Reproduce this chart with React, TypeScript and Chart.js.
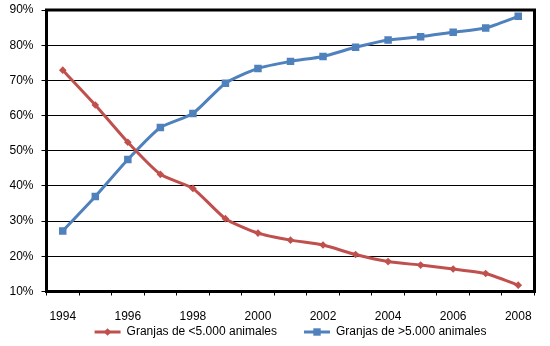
import React, { useEffect, useRef } from 'react';
import { Chart, registerables } from 'chart.js';

Chart.register(...registerables);

const years = ['1994', '1995', '1996', '1997', '1998', '1999', '2000', '2001', '2002', '2003', '2004', '2005', '2006', '2007', '2008'];
const smallFarms = [72.9, 63.0, 52.4, 43.3, 39.3, 30.7, 26.6, 24.6, 23.2, 20.5, 18.5, 17.5, 16.4, 15.1, 11.8];
const largeFarms = [27.2, 37.0, 47.5, 56.6, 60.6, 69.2, 73.4, 75.4, 76.8, 79.4, 81.5, 82.4, 83.7, 84.9, 88.2];
const seriesNames = ['Granjas de <5.000 animales', 'Granjas de >5.000 animales'];
const yMin = 10;
const yMax = 90;
const yStep = 10;

const RED = '#C0504D';
const BLUE = '#4F81BD';
const FONT = '"Liberation Sans", Arial, sans-serif';

const framePlugin = {
  id: 'frame',
  beforeDatasetsDraw(chart: any) {
    const { ctx, chartArea } = chart;
    ctx.save();
    ctx.strokeStyle = '#000';
    ctx.lineWidth = 3;
    ctx.strokeRect(chartArea.left, chartArea.top, chartArea.right - chartArea.left, chartArea.bottom - chartArea.top);
    ctx.restore();
  },
};

const legendPlugin = {
  id: 'customLegend',
  afterDraw(chart: any) {
    const { ctx, chartArea } = chart;
    ctx.save();
    ctx.font = '12px ' + FONT;
    const lineW = 26;
    const textGap = 6;
    const itemGap = 27;
    const widths = seriesNames.map((n) => ctx.measureText(n).width);
    const total = widths.reduce((a, w) => a + lineW + textGap + w, 0) + itemGap * (seriesNames.length - 1);
    let x = (chartArea.left + chartArea.right) / 2 - total / 2;
    const y = 332;
    chart.data.datasets.forEach((ds: any, i: number) => {
      ctx.strokeStyle = ds.borderColor;
      ctx.lineWidth = 3;
      ctx.beginPath();
      ctx.moveTo(x, y);
      ctx.lineTo(x + lineW, y);
      ctx.stroke();
      ctx.fillStyle = ds.borderColor;
      const cx = x + lineW / 2;
      ctx.beginPath();
      if (ds.pointStyle === 'rect') {
        const s = 3.7;
        ctx.rect(cx - s, y - s, 2 * s, 2 * s);
      } else {
        const r = 3.8;
        ctx.moveTo(cx - r, y);
        ctx.lineTo(cx, y - r);
        ctx.lineTo(cx + r, y);
        ctx.lineTo(cx, y + r);
        ctx.closePath();
      }
      ctx.fill();
      ctx.fillStyle = '#000';
      ctx.textBaseline = 'middle';
      ctx.textAlign = 'left';
      ctx.fillText(seriesNames[i], x + lineW + textGap, y);
      x += lineW + textGap + widths[i] + itemGap;
    });
    ctx.restore();
  },
};

export default function App() {
  const ref = useRef<HTMLCanvasElement | null>(null);
  useEffect(() => {
    document.body.style.margin = '0';
    const canvas = ref.current;
    if (!canvas) return;
    const chart = new Chart(canvas, {
      type: 'line',
      data: {
        labels: years,
        datasets: [
          {
            label: seriesNames[0],
            data: smallFarms,
            borderColor: RED,
            backgroundColor: RED,
            borderWidth: 3,
            pointStyle: 'rectRot',
            pointRadius: 3.8,
            pointBorderWidth: 0,
            tension: 0.2,
          },
          {
            label: seriesNames[1],
            data: largeFarms,
            borderColor: BLUE,
            backgroundColor: BLUE,
            borderWidth: 3,
            pointStyle: 'rect',
            pointRadius: 5.3,
            pointBorderWidth: 0,
            tension: 0.2,
          },
        ],
      },
      options: {
        responsive: false,
        animation: false,
        devicePixelRatio: 1,
        layout: { padding: { top: 10, right: 15.5, bottom: 24.5, left: 0 } },
        plugins: {
          legend: { display: false },
          tooltip: { enabled: false },
        },
        scales: {
          x: {
            type: 'category',
            offset: true,
            border: { display: false },
            grid: {
              offset: true,
              drawOnChartArea: false,
              drawTicks: true,
              tickLength: 4,
              color: '#000',
              lineWidth: 1,
            },
            ticks: {
              autoSkip: false,
              maxRotation: 0,
              minRotation: 0,
              padding: 14,
              color: '#000',
              font: { family: FONT, size: 12 },
              callback: (_v: any, i: number) => (i % 2 === 0 ? years[i] : ''),
            },
            afterFit: (scale: any) => {
              scale.height = 30;
              scale.paddingLeft = 0;
              scale.paddingRight = 0;
            },
          },
          y: {
            min: yMin,
            max: yMax,
            border: { display: false },
            grid: {
              color: '#000',
              lineWidth: 1,
              drawTicks: true,
              tickLength: 5,
            },
            ticks: {
              stepSize: yStep,
              padding: 8,
              color: '#000',
              font: { family: FONT, size: 12 },
              callback: (v: any) => v + '%',
            },
            afterFit: (scale: any) => {
              scale.width = 46.5;
              scale.paddingTop = 0;
              scale.paddingBottom = 0;
            },
          },
        },
      },
      plugins: [framePlugin, legendPlugin],
    });
    return () => chart.destroy();
  }, []);
  return (
    <div style={{ width: 550, height: 346, background: '#fff' }}>
      <canvas ref={ref} width={550} height={346} style={{ display: 'block', width: 550, height: 346 }} />
    </div>
  );
}
